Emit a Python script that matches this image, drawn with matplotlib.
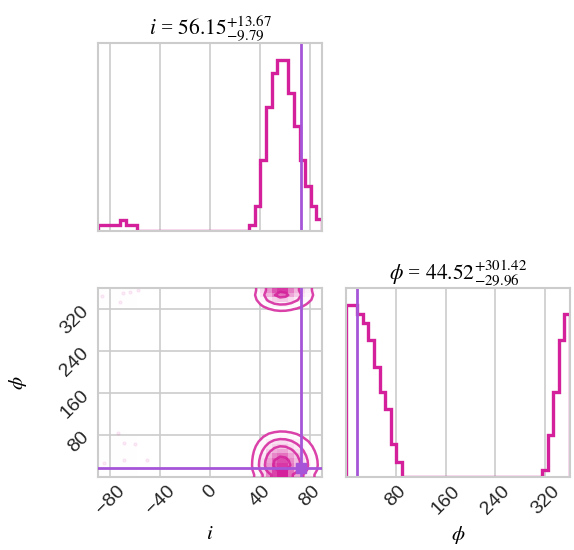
import numpy as np
import matplotlib
matplotlib.use("Agg")
import matplotlib.pyplot as plt
from matplotlib.colors import LinearSegmentedColormap

plt.rcParams["font.family"] = ["Liberation Sans", "DejaVu Sans"]
plt.rcParams["mathtext.fontset"] = "stix"

# ── data ─────────────────────────────────────────────────────────────
i_range = (-90.0, 90.0)
phi_range = (0.0, 360.0)

# 40-bin marginal histograms
i_counts = [1, 1, 1, 1, 2, 1, 1, 0, 0, 0,
            0, 0, 0, 0, 0, 0, 0, 0, 0, 0,
            0, 0, 0, 0, 0, 0, 0, 1, 4.5, 12.7,
            22.1, 28.1, 30.4, 30.4, 24.5, 18.6, 12.7, 8.0, 4.5, 2.1]
phi_counts = [30.5, 30.5, 28.9, 27.4, 24.3, 19.6, 15.1, 12.1, 5.8, 2.7,
              0, 0, 0, 0, 0, 0, 0, 0, 0, 0,
              0, 0, 0, 0, 0, 0, 0, 0, 0, 0,
              0, 0, 0, 0, 0, 1.2, 7.4, 15.1, 24.3, 28.9]

# stray samples outside the contours
stray_i = [-86.6, -70.2, -64.0, -58.2, -72.0, -74.2, -69.4, -60.0, -69.4, -50.6, -85.4]
stray_phi = [344, 350, 352, 356, 333, 83, 64, 62, 32, 32, 26]

i_truth = 73.5
phi_truth = 17.0

i_ticks = [-80, -40, 0, 40, 80]
phi_ticks = [80, 160, 240, 320]

i_title = r"$i$ = $56.15^{+13.67}_{-9.79}$"
phi_title = r"$\phi$ = $44.52^{+301.42}_{-29.96}$"

color = "#d4219b"
truth_color = "#a655d8"
grid_color = "#cccccc"

# ── figure ───────────────────────────────────────────────────────────
fig = plt.figure(figsize=(5.74, 5.5), dpi=100)
ax_i = fig.add_axes([98 / 574, 1 - 231 / 550, 224 / 574, 188 / 550])
ax_2d = fig.add_axes([98 / 574, 1 - 477 / 550, 224 / 574, 189 / 550])
ax_phi = fig.add_axes([346 / 574, 1 - 477 / 550, 224 / 574, 189 / 550])

for ax in (ax_i, ax_2d, ax_phi):
    ax.set_facecolor("white")
    for s in ax.spines.values():
        s.set_color(grid_color)
        s.set_linewidth(1.5)
    ax.grid(True, color=grid_color, linewidth=1.2)
    ax.set_axisbelow(True)
    ax.tick_params(length=0, labelsize=14, pad=4, colors="#262626")


def step_hist(ax, counts, rng):
    edges = np.linspace(rng[0], rng[1], len(counts) + 1)
    ax.stairs(counts, edges, color=color, linewidth=2.4)
    ax.set_xlim(rng)
    ax.set_ylim(0, 1.1 * max(counts))
    ax.set_yticks([])


# 1D: i
step_hist(ax_i, i_counts, i_range)
ax_i.set_xticks(i_ticks)
ax_i.set_xticklabels([])
ax_i.axvline(i_truth, color=truth_color, linewidth=2)
ax_i.set_title(i_title, family=["Liberation Serif"], fontsize=15.5, pad=6)

# 1D: phi
step_hist(ax_phi, phi_counts, phi_range)
ax_phi.set_xticks(phi_ticks)
ax_phi.axvline(phi_truth, color=truth_color, linewidth=2)
ax_phi.set_title(phi_title, family=["Liberation Serif"], fontsize=15.5, pad=6)
for l in ax_phi.get_xticklabels():
    l.set_rotation(45)
ax_phi.set_xlabel(r"$\phi$", fontsize=15)
ax_phi.xaxis.set_label_coords(0.5, -0.25)

# 2D: density built from the two marginals
pi = np.array(i_counts) / np.sum(i_counts)
pp = np.array(phi_counts) / np.sum(phi_counts)
H0 = np.outer(pi, pp)
k = np.exp(-0.5 * (np.arange(-5, 6) / 1.5) ** 2)
k /= k.sum()
H = np.apply_along_axis(lambda r: np.convolve(r, k, mode="same"), 0, H0)
H = np.apply_along_axis(lambda r: np.convolve(r, k, mode="same"), 1, H)

xe = np.linspace(*i_range, len(i_counts) + 1)
ye = np.linspace(*phi_range, len(phi_counts) + 1)
xc = 0.5 * (xe[1:] + xe[:-1])
yc = 0.5 * (ye[1:] + ye[:-1])

levels = 1.0 - np.exp(-0.5 * np.arange(0.5, 2.1, 0.5) ** 2)
Hf = np.sort(H.flatten())[::-1]
cs = np.cumsum(Hf)
cs /= cs[-1]
V = np.sort([Hf[cs <= v][-1] for v in levels])

# pad edges so contours run off the frame
H2 = np.pad(H, 1, mode="edge")
dx, dy = xc[1] - xc[0], yc[1] - yc[0]
X2 = np.concatenate([[xc[0] - dx], xc, [xc[-1] + dx]])
Y2 = np.concatenate([[yc[0] - dy], yc, [yc[-1] + dy]])

ax_2d.plot(stray_i, stray_phi, "o", ms=2.2, color=color, alpha=0.08, zorder=1)
white_cmap = LinearSegmentedColormap.from_list("w", [(1, 1, 1), (1, 1, 1)], N=2)
ax_2d.contourf(X2, Y2, H2.T, [V.min(), H.max()], cmap=white_cmap, antialiased=False, zorder=2)
density_cmap = LinearSegmentedColormap.from_list("d", [color, (1, 1, 1, 0)])
ax_2d.pcolormesh(xe, ye, H0.max() - H0.T, cmap=density_cmap, zorder=3)
ax_2d.contour(X2, Y2, H2.T, V, colors=[color], linewidths=1.8, alpha=0.85, zorder=4)

ax_2d.axvline(i_truth, color=truth_color, linewidth=2, zorder=5)
ax_2d.axhline(phi_truth, color=truth_color, linewidth=2, zorder=5)
ax_2d.plot(i_truth, phi_truth, "s", color=truth_color, ms=7, zorder=6)

ax_2d.set_xlim(i_range)
ax_2d.set_ylim(phi_range)
ax_2d.set_xticks(i_ticks)
ax_2d.set_yticks(phi_ticks)
for l in ax_2d.get_xticklabels() + ax_2d.get_yticklabels():
    l.set_rotation(45)
ax_2d.set_xlabel(r"$i$", fontsize=15)
ax_2d.set_ylabel(r"$\phi$", fontsize=15)
ax_2d.xaxis.set_label_coords(0.5, -0.25)
ax_2d.yaxis.set_label_coords(-0.31, 0.5)

plt.savefig("out.png", dpi=100)
plt.close()
